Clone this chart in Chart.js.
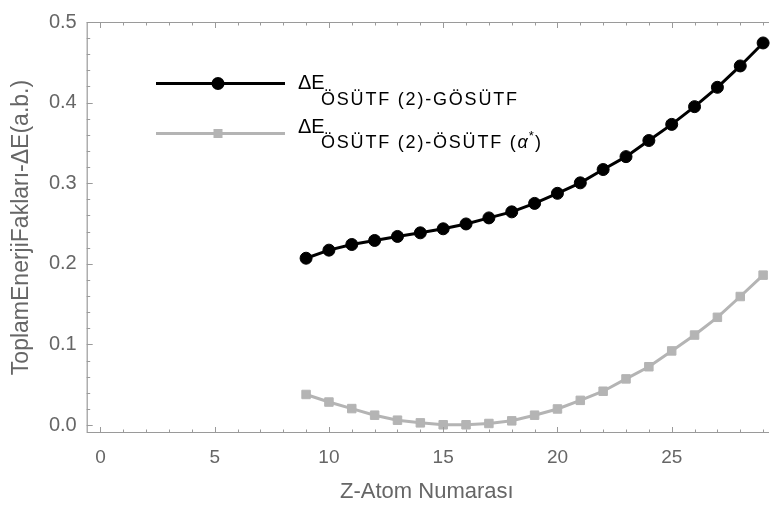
<!DOCTYPE html>
<html><head><meta charset="utf-8">
<script src="https://cdn.jsdelivr.net/npm/chart.js@4.4.1/dist/chart.umd.min.js"></script>
<style>html,body{margin:0;padding:0;background:#fff;}</style>
</head><body>
<canvas id="c" width="774" height="506" style="display:block;width:774px;height:506px"></canvas>
<script>
// ---- data ----
const zNumbers = [9,10,11,12,13,14,15,16,17,18,19,20,21,22,23,24,25,26,27,28,29];
const deltaGOSUTF = [0.207,0.217,0.224,0.229,0.234,0.2385,0.2435,0.2495,0.257,0.2645,0.275,0.2875,0.3005,0.317,0.333,0.353,0.373,0.395,0.419,0.4455,0.474];
const deltaAlpha = [0.038,0.0286,0.0205,0.0123,0.0061,0.0028,0.0004,0.0004,0.002,0.0053,0.0123,0.020,0.0307,0.042,0.0573,0.0724,0.092,0.1117,0.1337,0.1595,0.186];
const xTickValues = [0,5,10,15,20,25];
const yTickValues = [0,0.1,0.2,0.3,0.4,0.5];
const yTickLabels = ['0.0','0.1','0.2','0.3','0.4','0.5'];
const xMinorValues = [0,1,2,3,4,5,6,7,8,9,10,11,12,13,14,15,16,17,18,19,20,21,22,23,24,25,26,27,28,29];
const yMinorValues = [0,0.02,0.04,0.06,0.08,0.1,0.12,0.14,0.16,0.18,0.2,0.22,0.24,0.26,0.28,0.3,0.32,0.34,0.36,0.38,0.4,0.42,0.44,0.46,0.48,0.5];
const xTitle = 'Z-Atom Numarası';
const yTitle = 'ToplamEnerjiFakları-ΔE(a.b.)';
const legendMain = 'ΔE';
const legendSub1 = 'ÖSÜTF (2)-GÖSÜTF';
const legendSub2 = 'ÖSÜTF (2)-ÖSÜTF (';

const FONT = '"Liberation Sans", Arial, sans-serif';
const TEXT_GRAY = '#666666';
const FRAME_GRAY = '#9a9a9a';
const BLACK = '#000000';
const LIGHT = '#b4b4b4';

const framePlugin = {
  id: 'frame',
  afterDatasetsDraw(chart) {
    const {ctx, chartArea: a, scales: {x, y}} = chart;
    ctx.save();
    ctx.strokeStyle = FRAME_GRAY;
    ctx.lineWidth = 1.2;
    ctx.beginPath();
    ctx.moveTo(a.right + 2, a.top + 0.5);
    ctx.lineTo(a.left + 0.5, a.top + 0.5);
    ctx.lineTo(a.left + 0.5, a.bottom - 0.5);
    ctx.lineTo(a.right + 2, a.bottom - 0.5);
    ctx.stroke();
    ctx.lineWidth = 1;
    ctx.beginPath();
    xMinorValues.forEach(v => {
      const px = Math.round(x.getPixelForValue(v)) + 0.5;
      const len = xTickValues.includes(v) ? 6 : 3.5;
      ctx.moveTo(px, a.bottom); ctx.lineTo(px, a.bottom - len);
      ctx.moveTo(px, a.top); ctx.lineTo(px, a.top + len);
    });
    yMinorValues.forEach(v => {
      const py = Math.round(y.getPixelForValue(v)) + 0.5;
      const major = yTickValues.some(t => Math.abs(t - v) < 1e-9);
      const len = major ? 6 : 3.5;
      ctx.moveTo(a.left, py); ctx.lineTo(a.left + len, py);
    });
    ctx.stroke();
    ctx.restore();
  }
};

const legendPlugin = {
  id: 'customLegend',
  afterDraw(chart) {
    const ctx = chart.ctx;
    ctx.save();
    ctx.strokeStyle = BLACK; ctx.lineWidth = 3;
    ctx.beginPath(); ctx.moveTo(156, 83.5); ctx.lineTo(285, 83.5); ctx.stroke();
    ctx.fillStyle = BLACK;
    ctx.beginPath(); ctx.arc(218, 83.5, 6.5, 0, Math.PI * 2); ctx.fill();
    ctx.strokeStyle = LIGHT; ctx.lineWidth = 3;
    ctx.beginPath(); ctx.moveTo(156, 133.5); ctx.lineTo(285, 133.5); ctx.stroke();
    ctx.fillStyle = LIGHT;
    ctx.fillRect(213.5, 129, 9, 9);
    ctx.fillStyle = BLACK;
    ctx.textBaseline = 'alphabetic';
    ctx.textAlign = 'left';
    ctx.font = '20px ' + FONT;
    ctx.letterSpacing = '0px';
    ctx.fillText(legendMain, 298, 89);
    ctx.fillText(legendMain, 298, 133);
    ctx.font = '18px ' + FONT;
    ctx.letterSpacing = '1.8px';
    ctx.fillText(legendSub1, 321, 105);
    ctx.fillText(legendSub2, 321, 148);
    let w = ctx.measureText(legendSub2).width + 321;
    ctx.font = 'italic 18px ' + FONT;
    ctx.letterSpacing = '0px';
    ctx.fillText('α', w, 148);
    w += ctx.measureText('α').width + 1;
    ctx.font = '13px ' + FONT;
    ctx.fillText('*', w, 140);
    w += ctx.measureText('*').width + 1;
    ctx.font = '18px ' + FONT;
    ctx.fillText(')', w, 148);
    ctx.restore();
  }
};

new Chart(document.getElementById('c'), {
  type: 'scatter',
  data: {
    datasets: [
      {
        label: legendMain + legendSub1,
        data: zNumbers.map((z, i) => ({x: z, y: deltaGOSUTF[i]})),
        showLine: true,
        borderColor: BLACK,
        backgroundColor: BLACK,
        borderWidth: 3,
        pointRadius: 6,
        pointBorderWidth: 1,
        pointStyle: 'circle',
        clip: false
      },
      {
        label: legendMain + legendSub2 + 'α*)',
        data: zNumbers.map((z, i) => ({x: z, y: deltaAlpha[i]})),
        showLine: true,
        borderColor: LIGHT,
        backgroundColor: LIGHT,
        borderWidth: 3,
        pointRadius: 6,
        pointBorderWidth: 1,
        pointStyle: 'rect',
        clip: false
      }
    ]
  },
  options: {
    responsive: false,
    animation: false,
    devicePixelRatio: 1,
    layout: {padding: {left: 0, right: 0, top: 17, bottom: 0}},
    plugins: {legend: {display: false}, tooltip: {enabled: false}},
    scales: {
      x: {
        type: 'linear',
        min: -0.6,
        max: 29.17,
        afterBuildTicks: s => { s.ticks = xTickValues.map(v => ({value: v})); },
        afterFit: s => { s.height = 73; },
        grid: {display: false, drawTicks: false},
        border: {display: false},
        ticks: {color: TEXT_GRAY, font: {size: 19, family: FONT}, padding: 13, maxRotation: 0, autoSkip: false},
        title: {display: true, text: xTitle, color: TEXT_GRAY, font: {size: 22, family: FONT}, padding: {top: 0, bottom: 1}}
      },
      y: {
        type: 'linear',
        min: -0.0098,
        max: 0.5,
        afterBuildTicks: s => { s.ticks = yTickValues.map(v => ({value: v})); },
        afterFit: s => { s.width = 86.7; },
        grid: {display: false, drawTicks: false},
        border: {display: false},
        ticks: {color: TEXT_GRAY, font: {size: 20, family: FONT}, padding: 10, autoSkip: false,
          callback: (v) => { const i = yTickValues.findIndex(t => Math.abs(t - v) < 1e-9); return i >= 0 ? yTickLabels[i] : ''; }},
        title: {display: true, text: yTitle, color: TEXT_GRAY, font: {size: 23, family: FONT}, padding: {top: 8, bottom: 0}}
      }
    }
  },
  plugins: [framePlugin, legendPlugin]
});
</script>
</body></html>
